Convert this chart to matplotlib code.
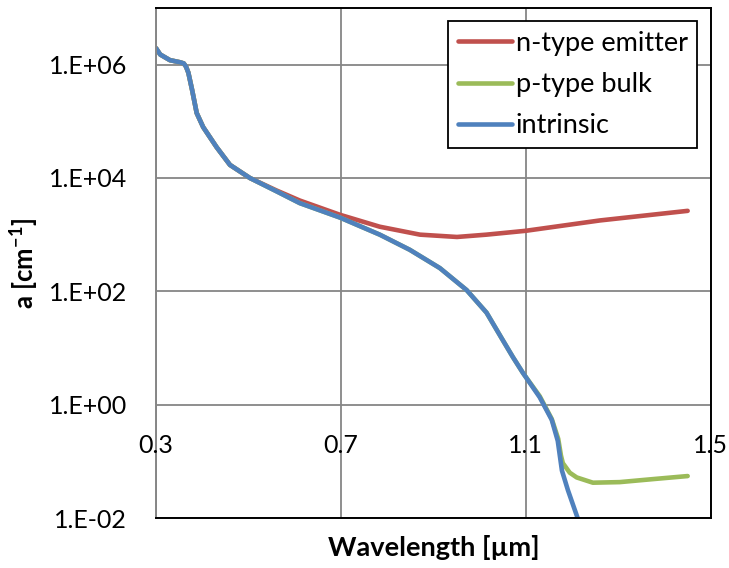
import matplotlib
matplotlib.use("Agg")
import matplotlib.pyplot as plt
import matplotlib.transforms as mtransforms

plt.rcParams['font.family'] = ['Lato', 'DejaVu Sans']
plt.rcParams['mathtext.fontset'] = 'custom'
plt.rcParams['mathtext.rm'] = 'Lato'
plt.rcParams['mathtext.bf'] = 'Lato:bold'

# wavelength [um] and absorption coefficient [cm^-1]
wl_intrinsic = [0.300, 0.309, 0.330, 0.352, 0.360, 0.365, 0.370, 0.378, 0.388,
                0.402, 0.431, 0.460, 0.503, 0.561, 0.611, 0.698, 0.784, 0.849,
                0.914, 0.972, 1.015, 1.050, 1.072, 1.094, 1.130, 1.156, 1.169,
                1.178, 1.191, 1.212, 1.220]
a_intrinsic = [1.95e6, 1.51e6, 1.2e6, 1.1e6, 1.05e6, 9.2e5, 7.2e5, 3.6e5, 1.4e5,
               7.9e4, 3.5e4, 1.7e4, 1.0e4, 5.8e3, 3.6e3, 2.0e3, 1.0e3, 540,
               257, 105, 42, 13.8, 6.9, 3.6, 1.35, 0.54, 0.23,
               0.069, 0.031, 0.010, 0.007]

wl_ntype = [0.300, 0.309, 0.330, 0.352, 0.360, 0.365, 0.370, 0.378, 0.388,
            0.402, 0.431, 0.460, 0.503, 0.561, 0.611, 0.698, 0.784, 0.871,
            0.951, 1.015, 1.100, 1.260, 1.450]
a_ntype = [1.95e6, 1.51e6, 1.2e6, 1.1e6, 1.05e6, 9.2e5, 7.2e5, 3.6e5, 1.4e5,
           7.9e4, 3.5e4, 1.7e4, 1.0e4, 6.0e3, 4.0e3, 2.24e3, 1.38e3, 1.0e3,
           910, 1.0e3, 1.17e3, 1.78e3, 2.63e3]

wl_ptype = [0.300, 0.309, 0.330, 0.352, 0.360, 0.365, 0.370, 0.378, 0.388,
            0.402, 0.431, 0.460, 0.503, 0.561, 0.611, 0.698, 0.784, 0.849,
            0.914, 0.972, 1.015, 1.050, 1.072, 1.094, 1.130, 1.156, 1.170,
            1.176, 1.180, 1.195, 1.210, 1.245, 1.303, 1.380, 1.450]
a_ptype = [1.95e6, 1.51e6, 1.2e6, 1.1e6, 1.05e6, 9.2e5, 7.2e5, 3.6e5, 1.4e5,
           7.9e4, 3.5e4, 1.7e4, 1.0e4, 5.8e3, 3.6e3, 2.0e3, 1.0e3, 540,
           257, 105, 42, 13.8, 6.9, 3.6, 1.41, 0.56, 0.25,
           0.126, 0.093, 0.063, 0.052, 0.042, 0.043, 0.049, 0.055]

x_ticks = [0.3, 0.7, 1.1, 1.5]
x_labels = ['0.3', '0.7', '1.1', '1.5']
y_ticks = [1e-2, 1e0, 1e2, 1e4, 1e6]
y_labels = ['1.E-02', '1.E+00', '1.E+02', '1.E+04', '1.E+06']

fig = plt.figure(figsize=(7.29, 5.68), dpi=100)
ax = fig.add_axes([0.214, 0.088, 0.761, 0.898])

lw = 3.3
ax.plot(wl_ntype, a_ntype, color='#C0504D', lw=lw, solid_capstyle='round',
        solid_joinstyle='round', label='n-type emitter')
ax.plot(wl_ptype, a_ptype, color='#9BBB59', lw=lw, solid_capstyle='round',
        solid_joinstyle='round', label='p-type bulk')
ax.plot(wl_intrinsic, a_intrinsic, color='#4F81BD', lw=lw, solid_capstyle='round',
        solid_joinstyle='round', label='intrinsic')

ax.set_yscale('log')
ax.set_xlim(0.3, 1.5)
ax.set_ylim(1e-2, 1e7)
ax.set_yticks(y_ticks)
ax.set_yticklabels(y_labels)
ax.minorticks_off()
ax.set_xticks(x_ticks)
ax.set_xticklabels([])
ax.tick_params(length=0, labelsize=18, pad=21)
ax.grid(True, color='#868686', lw=1.3)
ax.set_axisbelow(True)

for side in ['top', 'right', 'bottom']:
    ax.spines[side].set_color('black')
    ax.spines[side].set_linewidth(1.4)
ax.spines['left'].set_color('#868686')
ax.spines['left'].set_linewidth(1.4)

# x labels sit under the 1.E+00 line where the horizontal axis crosses
shift = mtransforms.ScaledTranslation(0, -0.29, fig.dpi_scale_trans)
for xv, lab in zip(x_ticks, x_labels):
    ax.text(xv, 1.0, lab, transform=ax.transData + shift,
            ha='center', va='top', fontsize=18)

ax.set_xlabel('Wavelength [µm]', fontsize=19.5, fontweight='bold', va='top')
ax.xaxis.set_label_coords(0.5, -0.033)
ax.set_ylabel('a [cm$^{\\mathbf{-1}}$]', fontsize=18.5, fontweight='bold')
ax.yaxis.set_label_coords(-0.207, 0.5)

leg = ax.legend(loc='upper right', fontsize=19.5, frameon=True, fancybox=False,
                edgecolor='black', framealpha=1, handlelength=2.0,
                handletextpad=0.15, labelspacing=0.6, borderpad=0.35,
                borderaxespad=0.5)
leg.get_frame().set_linewidth(1.3)

fig.savefig('out.png', dpi=100)
